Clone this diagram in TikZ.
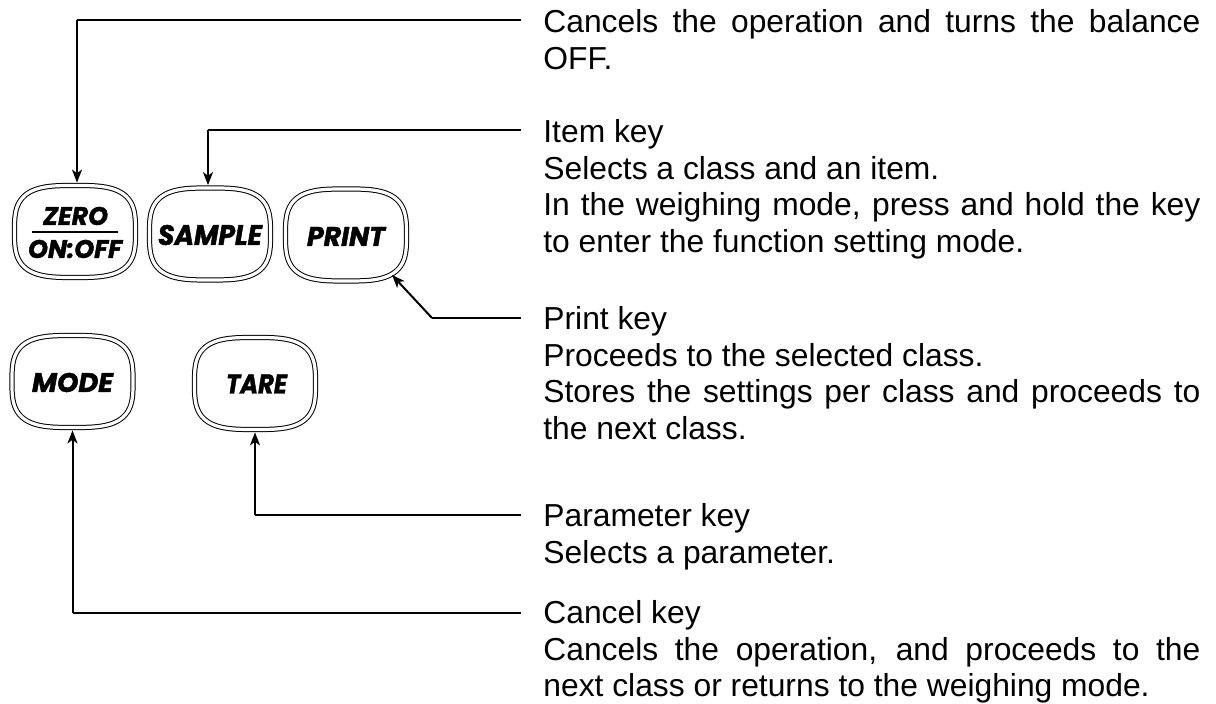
\documentclass[tikz,border=0pt]{standalone}
\usepackage{fontspec}
\setmainfont{Liberation Sans}
\newfontfamily\keyfont{Poppins}[FakeBold=1.6]
\usetikzlibrary{arrows.meta,calc}
\newcommand\kl[3]{\resizebox{#1pt}{#2pt}{\keyfont\bfseries\itshape #3}}
\tikzset{
  keybox/.style={minimum width=63pt, minimum height=48.5pt, inner sep=0pt},
  keyline/.style={draw, line width=0.5pt, double, double distance=1.6pt},
  txt/.style={anchor=base west, inner sep=0pt, font=\fontsize{15.9pt}{18.25pt}\selectfont},
  hline/.style={line width=0.6pt},
  arr/.style={line width=1pt, -{Stealth[length=6.5pt,width=5pt,inset=1.8pt]}},
  klab/.style={inner sep=0pt},
}
\newcommand\keyshape[1]{%
  \draw[keyline, shift={(#1.center)}] plot[smooth, domain=1:361, samples=91, variable=\t]
    ({60.5*sign(cos(\t))*pow(abs(cos(\t)),0.62)}, {46*sign(sin(\t))*pow(abs(sin(\t)),0.62)}) -- cycle;}
\newcommand\para[1]{\parbox[t]{328.5pt}{\tolerance=10000\hyphenpenalty=10000 #1}}
\begin{document}
\begin{tikzpicture}[x=0.5pt, y=-0.5pt]
\useasboundingbox (0,0) rectangle (1216,704);
% keys
\node[keybox] (zero) at (75,231.5) {};
\node[keybox] (sample) at (210,234) {};
\node[keybox] (print) at (346,235) {};
\node[keybox] (mode) at (72.5,381.5) {};
\node[keybox] (tare) at (255,383.5) {};
\keyshape{zero}\keyshape{sample}\keyshape{print}\keyshape{mode}\keyshape{tare}
\node[klab] (zerotop) at (75.5,216) {\kl{32.5}{9}{ZERO}};
\node[klab, fill=black, minimum width=43pt, minimum height=1.1pt] (zerobar) at (75,232) {};
\node[klab] (zerobot) at (75,249) {\kl{47}{9}{ON:OFF}};
\node[klab] (samplelab) at (210,235) {\kl{52}{10}{SAMPLE}};
\node[klab] (printlab) at (346,236.5) {\kl{39}{9.5}{PRINT}};
\node[klab] (modelab) at (72.5,382.5) {\kl{40.5}{9.5}{MODE}};
\node[klab] (tarelab) at (256.5,384) {\kl{30.5}{9.5}{TARE}};
% texts
\node[txt] (t1) at (543,33) {\para{Cancels the operation and turns the balance\linebreak OFF.}};
\node[txt] (t2) at (543,143) {\para{Item key\\Selects a class and an item.\\In the weighing mode, press and hold the key\linebreak to enter the function setting mode.}};
\node[txt] (t3) at (543,330) {\para{Print key\\Proceeds to the selected class.\\Stores the settings per class and proceeds to\linebreak the next class.}};
\node[txt] (t4) at (543,527) {\para{Parameter key\\Selects a parameter.}};
\node[txt] (t5) at (543,624) {\para{Cancel key\\Cancels the operation, and proceeds to the\linebreak next class or returns to the weighing mode.}};
% connectors
\coordinate (c1) at (521,20);  \coordinate (k1) at (77,20);
\draw[hline] (c1) -- (k1);
\draw[arr] (k1) -- (k1 |- zero.north);
\coordinate (c2) at (521,130); \coordinate (k2) at (208,130);
\draw[hline] (c2) -- (k2);
\draw[arr] (k2) -- (k2 |- sample.north);
\coordinate (c3) at (521,318); \coordinate (k3) at (432,318);
\coordinate (p3) at ($(print.center)+(46,40)$);
\draw[hline] (c3) -- (k3);
\draw[arr] (k3) -- (p3);
\coordinate (c4) at (521,515); \coordinate (k4) at (tare.south |- c4);
\draw[hline] (c4) -- (k4);
\draw[arr] (k4) -- (tare.south);
\coordinate (c5) at (521,613); \coordinate (k5) at (mode.south |- c5);
\draw[hline] (c5) -- (k5);
\draw[arr] (k5) -- (mode.south);
\end{tikzpicture}
\end{document}
